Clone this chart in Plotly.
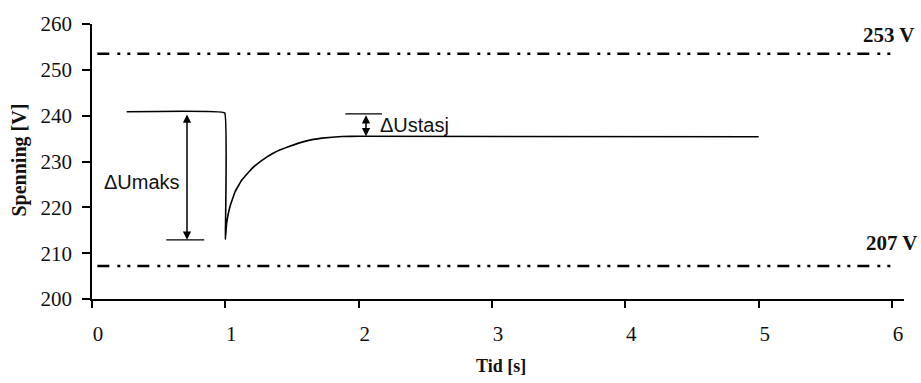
import plotly.graph_objects as go

# Voltage response
t_curve = [0.26, 0.995, 1.0, 1.01, 1.035, 1.073, 1.122, 1.197, 1.272, 1.372, 1.472, 1.61, 1.725, 1.875, 2.0, 5.0]
u_curve = [240.85, 240.6, 213.0, 216.6, 220.2, 223.4, 225.9, 228.4, 230.2, 232.0, 233.2, 234.5, 235.1, 235.45, 235.5, 235.4]

# Limit lines
limit_t = [0.04, 6.04]
limit_upper = 253.5
limit_lower = 207.2
limit_labels = ["253 V", "207 V"]

# Delta annotations
umaks_t = 0.7125
umaks_top = 240.6
umaks_bottom = 212.9
umaks_bar_t = [0.557, 0.842]
ustasj_t = 2.055
ustasj_top = 240.4
ustasj_bottom = 235.5
ustasj_bar_t = [1.90, 2.175]

x_ticks = [0, 1, 2, 3, 4, 5, 6]
y_ticks = [200, 210, 220, 230, 240, 250, 260]

SERIF = "Liberation Serif, Times New Roman, serif"
SANS = "Liberation Sans, Arial, sans-serif"
INK = "#111111"

L, R, T, B, W, H = 92, 17, 19, 84, 921, 383
PW, PH = W - L - R, H - T - B

def px_x(px):
    return (px - L) / PW

def px_y(py):
    return (H - B - py) / PH

fig = go.Figure()

dash_pat = "12px,8px,3px,7px,3px,7px"
for lv in [limit_upper, limit_lower]:
    fig.add_trace(go.Scatter(x=limit_t, y=[lv, lv], mode="lines",
                             line=dict(color="black", width=2.5, dash=dash_pat),
                             hoverinfo="skip", showlegend=False))

fig.add_trace(go.Scatter(x=t_curve, y=u_curve, mode="lines",
                         line=dict(color="black", width=1.6, shape="spline", smoothing=0.15),
                         showlegend=False))

fig.add_trace(go.Scatter(x=umaks_bar_t, y=[umaks_bottom, umaks_bottom], mode="lines",
                         line=dict(color="black", width=1.4), showlegend=False, hoverinfo="skip"))
fig.add_trace(go.Scatter(x=ustasj_bar_t, y=[ustasj_top, ustasj_top], mode="lines",
                         line=dict(color="black", width=1.4), showlegend=False, hoverinfo="skip"))

annotations = []
for xt, ytop, ybot in [(umaks_t, umaks_top, umaks_bottom), (ustasj_t, ustasj_top, ustasj_bottom)]:
    annotations.append(dict(x=xt, y=ybot, ax=xt, ay=ytop, xref="x", yref="y",
                            axref="x", ayref="y", text="", showarrow=True,
                            arrowhead=2, startarrowhead=2, arrowside="end+start",
                            arrowsize=1.1, startarrowsize=1.1, arrowwidth=1.5, arrowcolor="black",
                            standoff=0, startstandoff=0))

annotations.append(dict(x=px_x(141.5), y=px_y(180), xref="paper", yref="paper", text="\u0394Umaks",
                        showarrow=False, xanchor="center", yanchor="middle",
                        font=dict(family=SANS, size=20, color=INK)))
annotations.append(dict(x=px_x(378), y=px_y(122), xref="paper", yref="paper", text="\u0394Ustasj",
                        showarrow=False, xanchor="left", yanchor="middle",
                        font=dict(family=SANS, size=20, color=INK)))

annotations.append(dict(x=px_x(917), y=px_y(30), xref="paper", yref="paper",
                        text="<b>" + limit_labels[0] + "</b>", showarrow=False,
                        xanchor="right", yanchor="middle", font=dict(family=SERIF, size=21, color=INK)))
annotations.append(dict(x=px_x(920), y=px_y(241.5), xref="paper", yref="paper",
                        text="<b>" + limit_labels[1] + "</b>", showarrow=False,
                        xanchor="right", yanchor="middle", font=dict(family=SERIF, size=21, color=INK)))

annotations.append(dict(x=px_x(20), y=px_y(158), xref="paper", yref="paper", text="<b>Spenning [V]</b>",
                        showarrow=False, textangle=-90, xanchor="center", yanchor="middle",
                        font=dict(family=SERIF, size=20, color=INK)))
annotations.append(dict(x=px_x(501), y=px_y(367), xref="paper", yref="paper", text="<b>Tid [s]</b>",
                        showarrow=False, xanchor="center", yanchor="middle",
                        font=dict(family=SERIF, size=18, color=INK)))

fig.update_layout(
    width=W, height=H,
    margin=dict(l=L, r=R, t=T, b=B),
    plot_bgcolor="white", paper_bgcolor="white",
    showlegend=False,
    annotations=annotations,
    font=dict(family=SERIF, size=21, color=INK),
)
fig.update_xaxes(range=[0, 6.09], tickvals=x_ticks, ticktext=[str(v) for v in x_ticks],
                 showgrid=False, zeroline=False, showline=True, linecolor="black", linewidth=1.5,
                 ticks="outside", ticklen=7, tickwidth=1.5, tickcolor="black",
                 ticklabelstandoff=8, ticklabelshift=6,
                 tickfont=dict(family=SERIF, size=21, color=INK))
fig.update_yaxes(range=[200, 260], tickvals=y_ticks, ticktext=[str(v) for v in y_ticks],
                 showgrid=False, zeroline=False, showline=True, linecolor="black", linewidth=1.5,
                 ticks="outside", ticklen=8, tickwidth=1.5, tickcolor="black",
                 ticklabelstandoff=6,
                 tickfont=dict(family=SERIF, size=21, color=INK))

fig.write_html("out.html")
